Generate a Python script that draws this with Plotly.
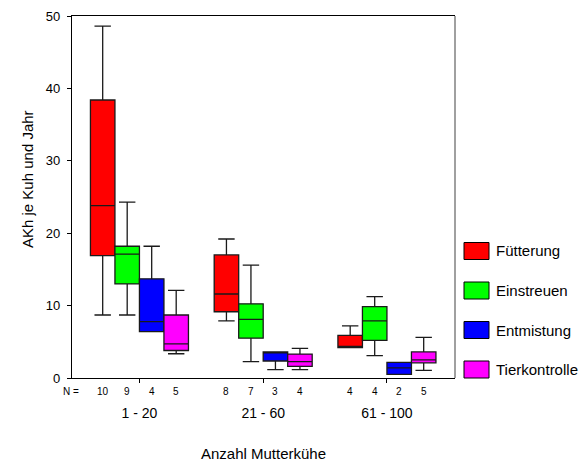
import plotly.graph_objects as go

categories = ["1 - 20", "21 - 60", "61 - 100"]
group_pos = [1, 2, 3]
series = ["Fütterung", "Einstreuen", "Entmistung", "Tierkontrolle"]
colors = ["#FF0000", "#00FF00", "#0000FF", "#FF00FF"]

lower_fuett = [8.7, 7.9, 4.2]
q1_fuett = [16.9, 9.15, 4.2]
median_fuett = [23.8, 11.6, 4.35]
q3_fuett = [38.4, 17.0, 5.9]
upper_fuett = [48.6, 19.2, 7.2]
n_fuett = [10, 8, 4]

lower_einst = [8.7, 2.25, 3.1]
q1_einst = [13.0, 5.5, 5.2]
median_einst = [17.1, 8.1, 7.9]
q3_einst = [18.2, 10.25, 9.85]
upper_einst = [24.3, 15.6, 11.25]
n_einst = [9, 7, 4]

lower_entm = [6.4, 1.15, 0.5]
q1_entm = [6.4, 2.35, 0.5]
median_entm = [7.8, 3.55, 1.4]
q3_entm = [13.7, 3.6, 2.15]
upper_entm = [18.2, 3.6, 2.15]
n_entm = [4, 3, 2]

lower_tier = [3.35, 1.15, 1.05]
q1_tier = [3.8, 1.6, 2.1]
median_tier = [4.7, 2.25, 2.5]
q3_tier = [8.7, 3.3, 3.6]
upper_tier = [12.1, 4.1, 5.6]
n_tier = [5, 4, 5]

stats = [
    (lower_fuett, q1_fuett, median_fuett, q3_fuett, upper_fuett, n_fuett),
    (lower_einst, q1_einst, median_einst, q3_einst, upper_einst, n_einst),
    (lower_entm, q1_entm, median_entm, q3_entm, upper_entm, n_entm),
    (lower_tier, q1_tier, median_tier, q3_tier, upper_tier, n_tier),
]

FONT = "Arial, Liberation Sans, sans-serif"
BOXGAP = 0.208

# plot area in pixels (for decoration placement)
W, H = 587, 465
L, R, T, B = 72, 132, 16, 87
PW, PH = W - L - R, H - T - B


def px_x(p):
    return (p - L) / PW


def px_y(p):
    return (H - B - p) / PH


fig = go.Figure()
for name, col, (lo, q1, med, q3, up, n) in zip(series, colors, stats):
    fig.add_trace(go.Box(
        name=name, x=group_pos, q1=q1, median=med, q3=q3,
        lowerfence=lo, upperfence=up,
        fillcolor=col, line=dict(color="#1a1a1a", width=1.3),
        whiskerwidth=0.67, boxpoints=False, hoverinfo="skip",
        showlegend=False,
    ))

annotations = []
shapes = []
nb = len(series)
bw = (1 - BOXGAP) / nb
# N row
annotations.append(dict(x=px_x(71), y=0, xref="paper", yref="paper", text="N =",
                        showarrow=False, xanchor="center", yanchor="top", yshift=-6,
                        font=dict(size=10, family=FONT, color="black")))
for k, (lo, q1, med, q3, up, n) in enumerate(stats):
    off = (k - (nb - 1) / 2) * bw
    for g, cnt in zip(group_pos, n):
        annotations.append(dict(x=g + off, y=0, xref="x", yref="paper", text=str(cnt),
                                showarrow=False, xanchor="center", yanchor="top", yshift=-6,
                                font=dict(size=10, family=FONT, color="black")))

# y-axis title
annotations.append(dict(x=px_x(27), y=px_y(179), xref="paper", yref="paper",
                        text="AKh je Kuh und Jahr", textangle=-90, showarrow=False,
                        xanchor="center", yanchor="middle",
                        font=dict(size=15, family=FONT, color="black")))

# legend (manual)
leg_y = [251, 290.5, 330, 369.5]
for name, col, cy in zip(series, colors, leg_y):
    shapes.append(dict(type="rect", xref="paper", yref="paper",
                       x0=px_x(464), x1=px_x(489), y0=px_y(cy + 8.5), y1=px_y(cy - 8.5),
                       fillcolor=col, line=dict(color="black", width=1)))
    annotations.append(dict(x=px_x(494), y=px_y(cy), xref="paper", yref="paper",
                            text=name, showarrow=False, xanchor="left", yanchor="middle",
                            font=dict(size=15, family=FONT, color="black")))

# right frame line (grey)
shapes.append(dict(type="line", xref="paper", yref="paper", x0=1, x1=1, y0=0, y1=1,
                   line=dict(color="#808080", width=1.5)))

fig.update_layout(
    width=W, height=H,
    margin=dict(l=L, r=R, t=T, b=B, autoexpand=False),
    paper_bgcolor="white", plot_bgcolor="white",
    boxmode="group", boxgap=BOXGAP, boxgroupgap=0,
    showlegend=False,
    font=dict(family=FONT, color="black"),
    xaxis=dict(
        range=[0.455, 3.55], tickvals=group_pos, ticktext=categories,
        showline=True, linecolor="black", linewidth=1.3, mirror=True,
        ticks="outside", ticklen=4, tickcolor="black", ticklabelstandoff=18,
        tickfont=dict(size=14, family=FONT, color="black"),
        showgrid=False, zeroline=False, automargin=False,
        title=dict(text="Anzahl Mutterkühe", standoff=28,
                   font=dict(size=15, family=FONT, color="black")),
    ),
    yaxis=dict(
        range=[0, 50], tickvals=[0, 10, 20, 30, 40, 50],
        showline=True, linecolor="black", linewidth=1.3,
        ticks="outside", ticklen=4, tickcolor="black", ticklabelstandoff=4,
        tickfont=dict(size=13, family=FONT, color="black"),
        showgrid=False, zeroline=False, automargin=False,
    ),
    annotations=annotations, shapes=shapes,
)

fig.write_html("out.html", config={"displayModeBar": False},
               post_script="document.body.style.margin='0';")
